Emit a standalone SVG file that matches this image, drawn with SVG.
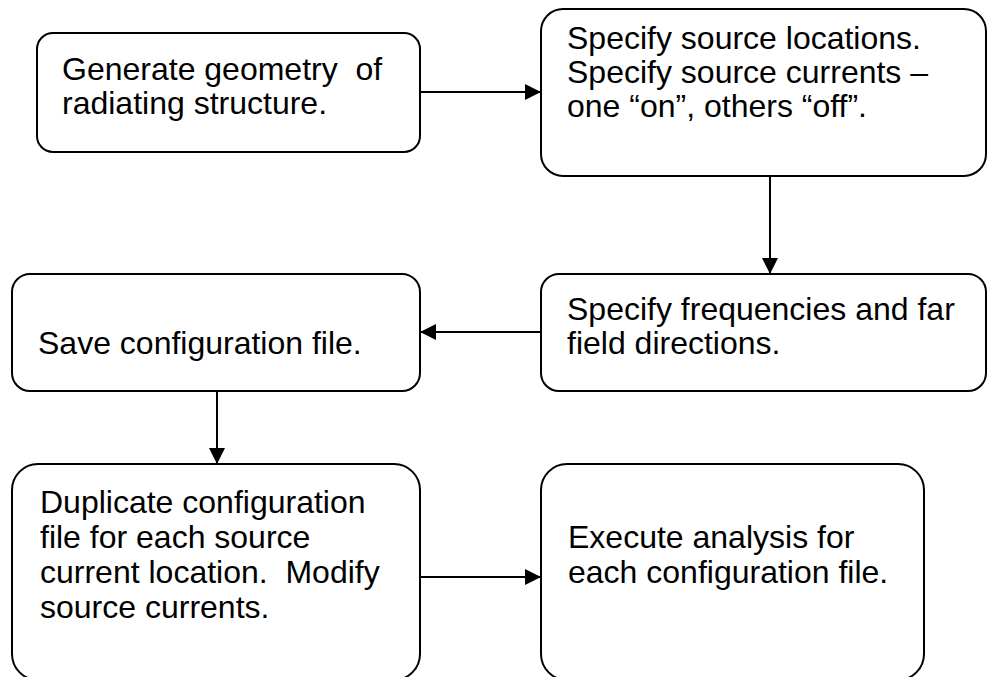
<svg xmlns="http://www.w3.org/2000/svg" width="987" height="677" viewBox="0 0 987 677">
<style>
.box{fill:#fff;stroke:#000;stroke-width:2}
.t{font-family:"Liberation Sans",Arial,sans-serif;font-size:32px;fill:#000;white-space:pre}
.c{stroke:#000;stroke-width:2;fill:none}
</style>
<defs>
<marker id="ah" viewBox="0 0 16 16" refX="16" refY="8" markerWidth="16" markerHeight="16" markerUnits="userSpaceOnUse" orient="auto">
<path d="M0,0 L16,8 L0,16 z" fill="#000"/>
</marker>
</defs>
<rect width="987" height="677" fill="#fff"/>
<g id="n1"><rect class="box" x="37" y="33" width="383" height="119" rx="16"/>
<text class="t" x="62" y="80" xml:space="preserve">Generate geometry  of</text>
<text class="t" x="62" y="114">radiating structure.</text></g>
<g id="n2"><rect class="box" x="541" y="9" width="445" height="167" rx="22"/>
<text class="t" x="567" y="49">Specify source locations.</text>
<text class="t" x="567" y="83">Specify source currents –</text>
<text class="t" x="567" y="117">one “on”, others “off”.</text></g>
<g id="n3"><rect class="box" x="541" y="274" width="445" height="117" rx="18"/>
<text class="t" x="567" y="320">Specify frequencies and far</text>
<text class="t" x="567" y="354">field directions.</text></g>
<g id="n4"><rect class="box" x="12" y="274" width="408" height="117" rx="18"/>
<text class="t" x="38" y="354">Save configuration file.</text></g>
<g id="n5"><rect class="box" x="12" y="464" width="408" height="216" rx="26"/>
<text class="t" x="40" y="513">Duplicate configuration</text>
<text class="t" x="40" y="548">file for each source</text>
<text class="t" x="40" y="583" xml:space="preserve">current location.  Modify</text>
<text class="t" x="40" y="618">source currents.</text></g>
<g id="n6"><rect class="box" x="541" y="464" width="383" height="216" rx="26"/>
<text class="t" x="568" y="548">Execute analysis for</text>
<text class="t" x="568" y="583">each configuration file.</text></g>
<g id="connectors">
<line class="c" x1="420" y1="92" x2="541" y2="92" marker-end="url(#ah)"/>
<line class="c" x1="770" y1="176" x2="770" y2="274" marker-end="url(#ah)"/>
<line class="c" x1="541" y1="332" x2="420" y2="332" marker-end="url(#ah)"/>
<line class="c" x1="217" y1="391" x2="217" y2="464" marker-end="url(#ah)"/>
<line class="c" x1="420" y1="577" x2="541" y2="577" marker-end="url(#ah)"/>
</g>
</svg>
